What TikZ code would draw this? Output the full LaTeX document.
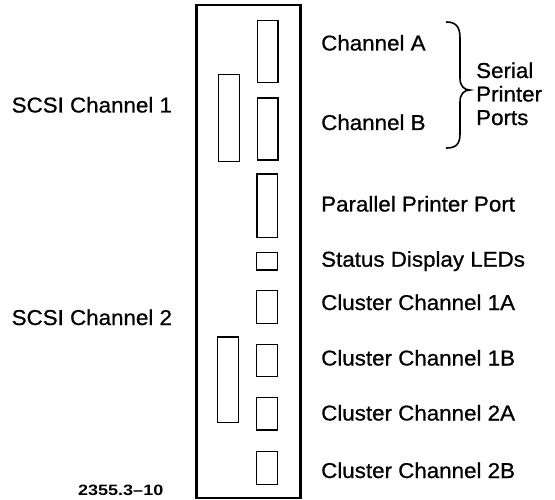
\documentclass[tikz,border=0pt]{standalone}
\usepackage{fontspec}
\usepackage{graphicx}
\setmainfont{Liberation Sans}
\newfontfamily\lblfont[FakeBold=0.8,FakeStretch=1.04]{Liberation Sans}
\newfontfamily\figfont[FakeStretch=1.2]{Liberation Sans Bold}
\begin{document}
\begin{tikzpicture}[x=1pt,y=-1pt,
  panel/.style={draw=black,line width=2.3pt},
  port/.style={draw=black,line width=1.4pt},
  lbl/.style={anchor=base west,inner sep=0pt,font=\lblfont\fontsize{21.5}{24}\selectfont},
  brace/.style={draw=black,line width=1.6pt,line cap=round}]
\useasboundingbox (0,0) rectangle (555,500);
% panel
\draw[panel] (196.5,5) rectangle (300.5,498);
% connectors on the panel
\draw[port] (257.7,20.7) rectangle (278,82.7);   % channel A
\draw[port] (257.3,98) rectangle (277.8,160);    % channel B
\draw[port] (218.3,74.7) rectangle (239.3,161.3); % SCSI 1
\draw[port] (256.8,174) rectangle (277.7,237.3); % parallel
\draw[port] (256.7,252.7) rectangle (277.3,270); % status LEDs
\draw[port] (256.7,290.7) rectangle (277.3,323.3); % CC1A
\draw[port] (256.7,344.3) rectangle (277.3,376.7); % CC1B
\draw[port] (256.5,397.3) rectangle (277.3,430); % CC2A
\draw[port] (256.5,451.3) rectangle (277.3,484.7); % CC2B
\draw[port] (217.7,337) rectangle (238.7,422.7); % SCSI 2
% labels
\node[lbl] (sc1) at (11.5,112.5) {SCSI Channel 1};
\node[lbl] (sc2) at (11.5,325) {SCSI Channel 2};
\node[lbl] (cha) at (321,50.5) {Channel A};
\node[lbl] (chb) at (321,130) {Channel B};
\node[lbl] (ser) at (476,78) {Serial};
\node[lbl] (pri) at (476,101.5) {Printer};
\node[lbl] (pts) at (476,125) {Ports};
\node[lbl] (par) at (321,211.5) {Parallel Printer Port};
\node[lbl] (led) at (321,266.7) {Status Display LEDs};
\node[lbl] (c1a) at (321,310) {Cluster Channel 1A};
\node[lbl] (c1b) at (321,365.5) {Cluster Channel 1B};
\node[lbl] (c2a) at (321,420.5) {Cluster Channel 2A};
\node[lbl] (c2b) at (321,478) {Cluster Channel 2B};
\node[anchor=base west,inner sep=0pt,font=\figfont\fontsize{15}{16}\selectfont] (fig) at (78,495) {2355.3–10};
% brace
\draw[brace] (446.5,22) .. controls (456,22) and (460,27) .. (460,38)
  -- (460,78) .. controls (460,86) and (464,90) .. (470,90)
  .. controls (464,90) and (460,94) .. (460,102)
  -- (460,134) .. controls (460,144) and (456,148) .. (446.5,148);
\end{tikzpicture}
\end{document}
